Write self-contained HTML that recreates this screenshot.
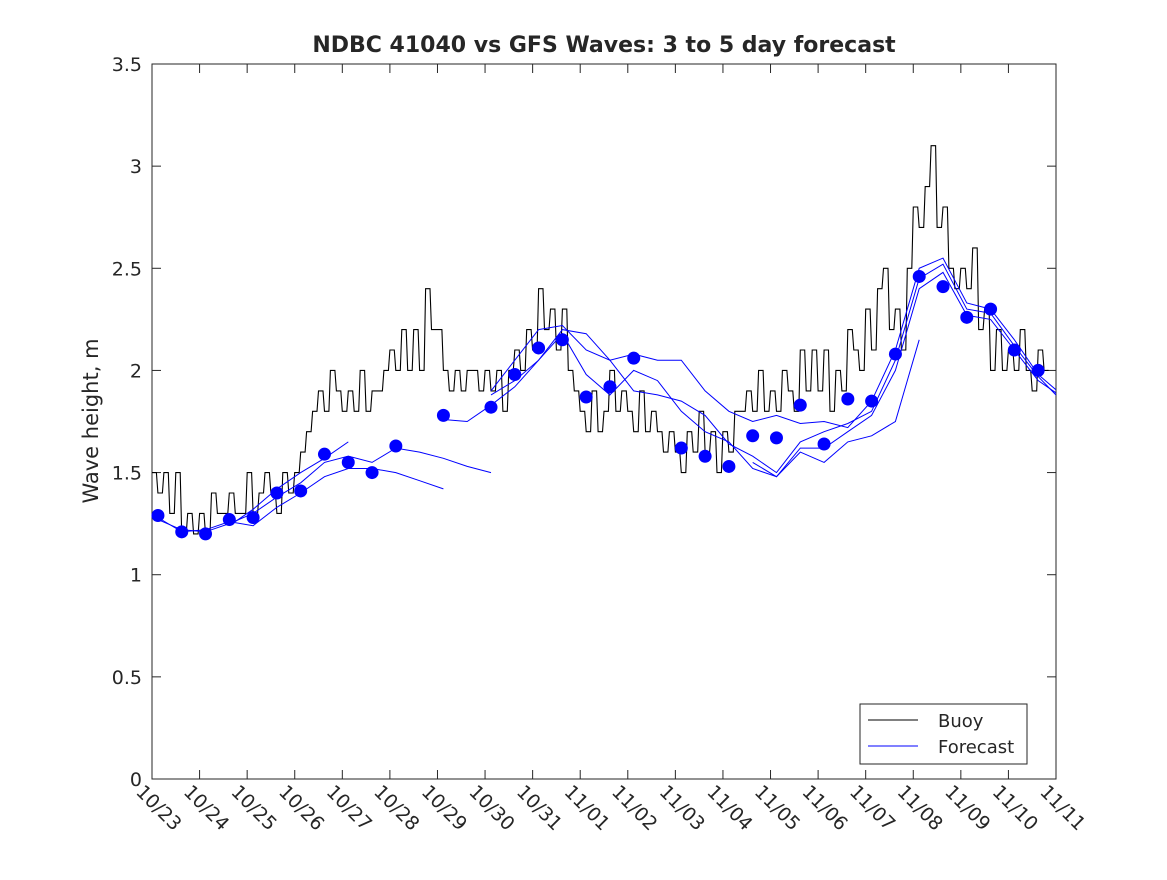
<!DOCTYPE html>
<html><head><meta charset="utf-8"><style>
body{margin:0;background:#fff;font-family:"Liberation Sans","DejaVu Sans",sans-serif;}
svg text{font-family:"DejaVu Sans","Liberation Sans",sans-serif;fill:#262626;}
</style></head><body>
<svg id="c" width="1167" height="875"></svg>
<script>
const xTicks=["10/23","10/24","10/25","10/26","10/27","10/28","10/29","10/30","10/31","11/01","11/02","11/03","11/04","11/05","11/06","11/07","11/08","11/09","11/10","11/11"];
const yTicks=[0,0.5,1,1.5,2,2.5,3,3.5];
const buoy=[1.5,1.4,1.5,1.3,1.5,1.2,1.3,1.2,
1.3,1.2,1.4,1.3,1.3,1.4,1.3,1.3,
1.5,1.3,1.4,1.5,1.4,1.3,1.5,1.4,
1.5,1.6,1.7,1.8,1.9,1.8,2.0,1.9,
1.8,1.9,1.8,2.0,1.8,1.9,1.9,2.0,
2.1,2.0,2.2,2.0,2.2,2.0,2.4,2.2,
2.2,2.0,1.9,2.0,1.9,2.0,2.0,1.9,
2.0,1.9,2.0,1.8,2.0,2.1,2.0,2.2,
2.1,2.4,2.2,2.3,2.1,2.3,2.0,1.9,
1.8,1.7,1.9,1.7,1.8,2.0,1.8,1.9,
1.8,1.7,1.9,1.7,1.8,1.7,1.6,1.7,
1.6,1.5,1.7,1.6,1.8,1.6,1.7,1.5,
1.7,1.6,1.8,1.8,1.9,1.8,2.0,1.8,
1.9,1.8,2.0,1.9,1.8,2.1,1.9,2.1,
1.9,2.1,1.8,2.0,1.9,2.2,2.1,2.0,
2.3,2.1,2.4,2.5,2.2,2.3,2.1,2.5,
2.8,2.7,2.9,3.1,2.7,2.8,2.5,2.4,
2.5,2.4,2.6,2.2,2.3,2.0,2.2,2.0,
2.1,2.0,2.2,2.0,1.9,2.1,2.0];
const dots=[1.29,1.21,1.20,1.27,1.28,1.40,1.41,1.59,1.55,1.50,1.63,null,1.78,null,1.82,1.98,2.11,2.15,1.87,1.92,2.06,null,1.62,1.58,1.53,1.68,1.67,1.83,1.64,1.86,1.85,2.08,2.46,2.41,2.26,2.30,2.10,2.00,null];
const N=null;
const fc1=[1.27,1.22,1.21,1.25,1.30,1.38,1.45,1.55,1.58,1.55,1.62,1.60,1.57,1.53,1.50];
const fc2=[1.28,1.21,1.22,1.26,1.24,1.33,1.40,1.48,1.52,1.52,1.50,1.46,1.42];
const fc3=[N,N,N,1.24,1.32,1.42,1.50,1.57,1.65];
const fc4=[N,N,N,N,N,N,N,N,N,N,N,N,1.76,1.75,1.83,1.92,2.05,2.20,2.18,2.05,1.90,1.88,1.85,1.78,1.64,1.58,1.50,1.65,1.70,1.74,1.80,2.05,2.45,2.52,2.30,2.28,2.12,1.97,1.85];
const fc5=[N,N,N,N,N,N,N,N,N,N,N,N,N,N,1.90,2.05,2.20,2.22,2.10,2.05,2.08,2.05,2.05,1.90,1.80,1.75,1.78,1.74,1.75,1.72,1.85,2.10,2.50,2.55,2.33,2.30,2.15,1.98,1.88];
const fc6=[N,N,N,N,N,N,N,N,N,N,N,N,N,N,1.88,1.95,2.05,2.18,1.98,1.88,2.00,1.95,1.80,1.70,1.65,1.52,1.48,1.62,1.62,1.70,1.78,2.00,2.40,2.48,2.27,2.25,2.10,1.95,1.87];
const fc7=[N,N,N,N,N,N,N,N,N,N,N,N,N,N,N,N,N,N,N,N,N,N,N,N,N,1.55,1.48,1.60,1.55,1.65,1.68,1.75,2.15];
const forecasts=[fc1,fc2,fc3,fc4,fc5,fc6,fc7];

const L=152,R=1056,T=64,B=779;
const X=d=>L+(R-L)*d/19;
const Y=v=>B-(B-T)*v/3.5;
const svg=document.getElementById('c');
const NS='http://www.w3.org/2000/svg';
function mk(tag,attrs,parent){const e=document.createElementNS(NS,tag);for(const k in attrs)e.setAttribute(k,attrs[k]);(parent||svg).appendChild(e);return e;}

const frame=mk('rect',{x:L,y:T,width:R-L,height:B-T,fill:'#fff',stroke:'#262626','stroke-width':1});


mk('clipPath',{id:'clip'}).appendChild(document.createElementNS(NS,'rect'));
const cr=document.querySelector('#clip rect');cr.setAttribute('x',L);cr.setAttribute('y',T);cr.setAttribute('width',R-L);cr.setAttribute('height',B-T);

xTicks.forEach((t,i)=>{
  const x=X(i);
  const l1=mk('line',{x1:x,x2:x,y1:B,y2:B-9,stroke:'#262626'});
  
  
  const l2=mk('line',{x1:x,x2:x,y1:T,y2:T+9,stroke:'#262626'});
  
  
  const tx=mk('text',{x:x-17,y:B+14,'font-size':19,transform:`rotate(45 ${x-17} ${B+14})`});
  tx.textContent=t;
  
  
});
yTicks.forEach(v=>{
  const y=Y(v);
  const l1=mk('line',{x1:L,x2:L+9,y1:y,y2:y,stroke:'#262626'});
  
  
  const l2=mk('line',{x1:R,x2:R-9,y1:y,y2:y,stroke:'#262626'});
  
  
  const tx=mk('text',{x:L-10,y:y+7,'font-size':19,'text-anchor':'end'});
  tx.textContent=String(v);
  
  
});

// buoy (stepped)
let pts=[];
buoy.forEach((v,i)=>{const x0=X(i/8),x1=X((i+1)/8)-1.5;pts.push(x0.toFixed(1)+','+Y(v).toFixed(1));pts.push(x1.toFixed(1)+','+Y(v).toFixed(1));});
const bl=mk('polyline',{points:pts.join(' '),fill:'none',stroke:'#000','stroke-width':1.1});



// forecasts
forecasts.forEach(s=>{
  let seg=[];
  const flush=()=>{if(seg.length>1){const p=mk('polyline',{points:seg.join(' '),fill:'none',stroke:'#0000ff','stroke-width':1,'clip-path':'url(#clip)'});
    
    }seg=[];};
  s.forEach((v,k)=>{if(v==null){flush();}else seg.push(X(0.125+0.5*k).toFixed(1)+','+Y(v).toFixed(1));});
  flush();
});
dots.forEach((v,k)=>{
  if(v==null)return;
  const c=mk('circle',{cx:X(0.125+0.5*k),cy:Y(v),r:6.5,fill:'#0000ff'});
  
  
});

const title=mk('text',{x:604,y:52,'font-size':22,'font-weight':'bold','text-anchor':'middle',fill:'#000'});
title.textContent='NDBC 41040 vs GFS Waves: 3 to 5 day forecast';


const yl=mk('text',{x:98,y:421,'font-size':21,'text-anchor':'middle',transform:'rotate(-90 98 421)'});
yl.textContent='Wave height, m';



const lg=mk('g',{});


mk('rect',{x:860,y:704,width:167,height:60,fill:'#fff',stroke:'#262626'},lg);
const e1=mk('line',{x1:868,x2:918,y1:720,y2:720,stroke:'#000'},lg);


const t1=mk('text',{x:938,y:727,'font-size':18},lg);t1.textContent='Buoy';


const e2=mk('line',{x1:868,x2:918,y1:746,y2:746,stroke:'#0000ff'},lg);


const t2=mk('text',{x:938,y:753,'font-size':18},lg);t2.textContent='Forecast';


</script>
</body></html>
